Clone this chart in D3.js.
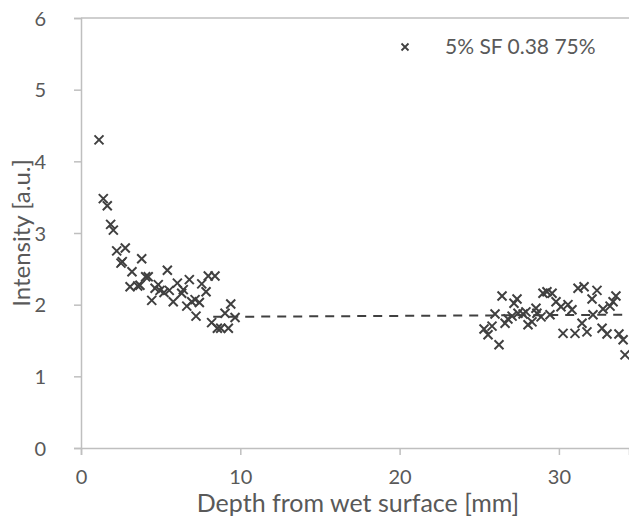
<!DOCTYPE html>
<html>
<head>
<meta charset="utf-8">
<script src="https://cdn.jsdelivr.net/npm/d3@7"></script>
<style>
  body { margin: 0; background: #fff; }
  svg { display: block; font-family: Lato, "Open Sans", sans-serif; }
</style>
</head>
<body>
<svg id="chart" width="629" height="524"></svg>
<script>
// measured points, depth [mm]
const depth = [
  1.13, 1.40, 1.65, 1.86, 2.03, 2.24, 2.78, 2.51, 2.59, 3.20,
  3.81, 3.08, 3.56, 4.06, 4.22, 5.42, 3.70, 4.44, 4.65, 4.85,
  4.96, 5.21, 5.54, 5.79, 6.05, 6.32, 6.42, 6.80, 6.64, 6.95,
  7.16, 7.43, 7.22, 7.58, 7.85, 7.99, 8.41, 8.20, 8.56, 8.77,
  9.25, 9.04, 9.40, 9.67,
  25.30, 25.55, 25.80, 25.99, 26.24, 26.43, 26.62, 26.80, 27.06, 27.18,
  27.37, 27.43, 27.75, 27.93, 28.06, 28.31, 28.56, 28.62, 28.88, 29.00,
  29.25, 29.57, 29.44, 29.82, 30.13, 30.26, 30.57, 30.82, 31.01, 31.20,
  31.45, 31.58, 31.76, 32.08, 32.14, 32.39, 32.71, 32.77, 33.02, 33.21,
  33.40, 33.58, 33.77, 34.03, 34.15
];
// intensity [a.u.]
const intensity = [
  4.30, 3.48, 3.38, 3.12, 3.04, 2.75, 2.79, 2.58, 2.60, 2.46,
  2.64, 2.25, 2.26, 2.39, 2.39, 2.48, 2.27, 2.06, 2.23, 2.28,
  2.20, 2.17, 2.20, 2.04, 2.30, 2.16, 2.21, 2.35, 1.98, 2.04,
  2.07, 2.03, 1.84, 2.29, 2.18, 2.40, 2.40, 1.75, 1.67, 1.67,
  1.67, 1.88, 2.01, 1.82,
  1.66, 1.58, 1.70, 1.87, 1.44, 2.12, 1.74, 1.80, 1.84, 2.02,
  2.08, 1.88, 1.87, 1.90, 1.72, 1.76, 1.95, 1.88, 1.83, 2.16,
  2.18, 2.16, 1.86, 2.04, 1.97, 1.60, 2.00, 1.93, 1.60, 2.23,
  1.74, 2.25, 1.62, 2.08, 1.86, 2.20, 1.67, 1.94, 1.59, 1.98,
  2.04, 2.12, 1.59, 1.51, 1.30
];
// dashed fit line
const fitX = [8.3, 34.4];
const fitY = [1.83, 1.86];

const xTicks = [0, 10, 20, 30];
const yTicks = [0, 1, 2, 3, 4, 5, 6];
const seriesName = "5% SF 0.38 75%";

const svg = d3.select("#chart");
const AXIS = "#bfbfbf", TEXT = "#595959", MARK = "#404040";

const x = d3.scaleLinear().domain([0, 34.4]).range([81, 629]);
const y = d3.scaleLinear().domain([0, 6]).range([448, 18]);

// top line
svg.append("line")
  .attr("x1", x(0)).attr("x2", 629)
  .attr("y1", y(6)).attr("y2", y(6))
  .attr("stroke", AXIS).attr("stroke-width", 1.5);

const yAxis = svg.append("g")
  .attr("transform", "translate(" + x(0) + ",0)")
  .call(d3.axisLeft(y).tickValues(yTicks).tickFormat(d3.format("d"))
    .tickSize(7).tickPadding(28));
const xAxis = svg.append("g")
  .attr("transform", "translate(0," + y(0) + ")")
  .call(d3.axisBottom(x).tickValues(xTicks).tickFormat(d3.format("d"))
    .tickSize(7).tickPadding(15));

[xAxis, yAxis].forEach(function(g){
  g.select(".domain").attr("stroke", AXIS).attr("stroke-width", 1.5);
  g.selectAll(".tick line").attr("stroke", AXIS).attr("stroke-width", 1.5);
  g.selectAll(".tick text")
    .attr("fill", TEXT).attr("font-size", 20)
    .attr("font-family", "Lato, 'Open Sans', sans-serif");
});
yAxis.selectAll(".tick text").attr("dy", "0.35em");

svg.append("text")
  .attr("x", 358).attr("y", 512)
  .attr("text-anchor", "middle")
  .attr("fill", TEXT).attr("font-size", 25)
  .text("Depth from wet surface [mm]");
svg.append("text")
  .attr("transform", "translate(30," + y(3) + ") rotate(-90)")
  .attr("text-anchor", "middle")
  .attr("fill", TEXT).attr("font-size", 24)
  .text("Intensity [a.u.]");

// fit line
svg.append("line")
  .attr("x1", x(fitX[0])).attr("x2", x(fitX[1]))
  .attr("y1", y(fitY[0])).attr("y2", y(fitY[1]))
  .attr("stroke", MARK).attr("stroke-width", 2)
  .attr("stroke-dasharray", "9,7");

// x markers
const CROSS = "M -4.5 -4.5 L 4.5 4.5 M 4.5 -4.5 L -4.5 4.5";
svg.append("g").selectAll("path")
  .data(depth.map(function(d, i){ return [d, intensity[i]]; }))
  .join("path")
    .attr("transform", function(d){ return "translate(" + [x(d[0]), y(d[1])] + ")"; })
    .attr("d", CROSS)
    .attr("fill", "none").attr("stroke", MARK).attr("stroke-width", 2);

// legend
const LEG = svg.append("g").attr("transform", "translate(405,47)");
LEG.append("path")
  .attr("d", "M -3.5 -3.5 L 3.5 3.5 M 3.5 -3.5 L -3.5 3.5")
  .attr("fill", "none").attr("stroke", MARK).attr("stroke-width", 1.8);
LEG.append("text")
  .attr("x", 40).attr("y", 0).attr("dy", "0.35em")
  .attr("fill", TEXT).attr("font-size", 21)
  .text(seriesName);
</script>
</body>
</html>
